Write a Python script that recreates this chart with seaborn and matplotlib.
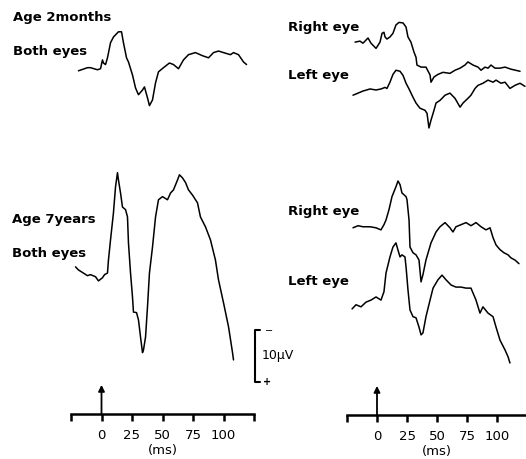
import numpy as np
import pandas as pd
import matplotlib
matplotlib.use("Agg")
import matplotlib.pyplot as plt
import seaborn as sns

# %% data (time in ms, amplitude in uV relative to trace start)
t_2m_both = [-18.9, -11.5, -9.0, -3.3, -0.8, 0.8, 1.6, 3.3, 4.9, 7.4, 9.8, 13.9, 16.4, 18.0, 20.5, 22.1,
             25.4, 27.9, 30.3, 33.6, 35.2, 37.7, 39.3, 41.8, 44.3, 46.7, 50.8, 55.7, 59.0, 63.1, 67.2,
             71.3, 77.0, 82.8, 87.7, 91.8, 95.9, 100.0, 105.7, 108.2, 112.3, 116.4, 118.9]
v_2m_both = [0, 0.6, 0.6, 0.2, 0.4, 2.1, 1.5, 1.2, 2.5, 5.4, 6.5, 7.5, 7.5, 5.4, 2.5, 1.7,
             -0.8, -3.3, -4.6, -3.7, -3.1, -5.2, -6.7, -5.6, -2.3, -0.2, 0.6, 1.5, 1.2, 0.4, 2.1,
             3.1, 3.5, 2.9, 2.5, 3.5, 3.8, 3.5, 3.1, 3.5, 3.1, 1.7, 1.2]

t_2m_right = [-18.3, -14.2, -11.7, -7.5, -5.0, -0.8, 2.5, 4.2, 5.8, 6.7, 8.3, 10.8, 13.3, 15.8, 18.3,
              21.7, 24.2, 25.8, 28.3, 30.8, 32.5, 33.3, 36.7, 40.8, 44.2, 45.0, 47.5, 50.8, 55.0,
              60.8, 65.0, 69.2, 73.3, 75.8, 80.0, 84.2, 86.7, 90.0, 92.5, 95.0, 98.3, 102.5, 106.7,
              111.7, 119.2]
v_2m_right = [0, 0.2, -0.2, 0.8, -0.2, -1.2, 0, 1.7, 1.9, 1.0, 0.6, 1.0, 1.7, 3.3, 3.8,
              3.7, 2.9, 1.0, 0, -1.9, -2.9, -4.4, -4.8, -4.8, -6.3, -7.7, -6.7, -6.2, -5.8,
              -6.0, -5.4, -5.0, -4.4, -3.8, -4.4, -4.8, -5.4, -4.8, -5.0, -4.4, -5.0, -5.0, -4.8,
              -5.2, -5.6]

t_2m_left = [-20.0, -15.8, -11.7, -5.8, -0.8, 3.3, 6.7, 8.3, 10.8, 13.3, 15.8, 19.2, 21.7, 24.2,
             26.7, 30.0, 32.5, 35.8, 40.0, 41.7, 43.3, 45.0, 47.5, 49.2, 52.5, 56.7, 60.8, 65.0,
             69.2, 71.7, 75.8, 78.3, 81.7, 84.2, 88.3, 92.5, 96.7, 99.2, 103.3, 106.7, 110.8,
             115.0, 119.2, 123.3]
v_2m_left = [0, 0.4, 0.8, 1.2, 1.0, 1.2, 1.5, 1.3, 2.5, 4.0, 4.8, 4.6, 3.8, 2.3,
             1.2, -0.4, -1.5, -2.5, -2.9, -3.5, -6.3, -4.8, -2.9, -1.5, -1.0, 0, 0.4, -0.6,
             -2.3, -1.5, -0.6, 0, 1.3, 1.9, 2.3, 2.9, 2.5, 2.9, 2.3, 2.5, 1.3,
             1.9, 2.3, 1.7]

t_7y_both = [-21.3, -18.9, -14.8, -11.5, -9.0, -4.9, -2.5, 0.8, 2.5, 4.9, 5.7, 7.4, 9.8, 11.5, 13.1,
             13.9, 15.6, 17.2, 19.7, 21.3, 22.1, 23.8, 25.4, 26.2, 28.7, 30.3, 32.0, 33.6, 34.4,
             36.1, 37.7, 39.3, 41.8, 44.3, 46.7, 50.0, 54.1, 56.6, 59.0, 62.3, 63.9, 66.4, 68.9,
             71.3, 74.6, 78.7, 81.1, 85.2, 89.3, 93.4, 95.9, 100.0, 104.1, 107.4, 108.2]
v_7y_both = [0, -0.6, -1.2, -1.7, -1.5, -1.9, -2.7, -2.1, -1.5, -1.2, 1.3, 5.2, 10.4, 15.4, 18.1,
             16.7, 14.2, 11.5, 11.0, 9.6, 4.6, -1.2, -5.8, -8.7, -8.8, -10.2, -13.5, -16.5, -16.0,
             -13.5, -7.7, -1.2, 3.8, 9.6, 12.9, 13.5, 12.9, 14.2, 14.8, 16.7, 17.7, 17.1, 16.2,
             14.8, 13.8, 12.3, 9.6, 7.7, 5.2, 1.3, -2.5, -6.9, -11.5, -16.5, -17.9]

t_7y_right = [-20.0, -15.8, -11.7, -5.8, -0.8, 3.3, 5.8, 7.5, 10.0, 12.5, 15.8, 17.5, 19.2, 20.8,
              24.2, 25.0, 26.7, 27.5, 30.0, 32.5, 35.0, 36.7, 38.3, 40.8, 45.0, 49.2, 52.5, 56.7,
              60.8, 63.3, 65.8, 70.0, 74.2, 78.3, 82.5, 86.7, 90.8, 94.2, 96.7, 99.2, 102.5, 105.8,
              109.2, 111.7, 115.0, 118.3]
v_7y_right = [0, 0.4, 0.2, 0.2, 0, -0.4, 0.6, 1.5, 3.5, 6.0, 7.9, 9.0, 8.3, 6.7,
              6.0, 5.4, 1.5, -3.7, -4.8, -5.2, -6.2, -10.4, -9.0, -6.2, -2.9, -0.8, 0.2, 1.0,
              0, -0.8, 0.2, 0.6, 1.0, 0.4, 1.0, 0.2, -0.4, 0, -1.9, -3.3, -4.2, -4.8,
              -5.2, -5.8, -6.2, -6.9]

t_7y_left = [-20.8, -17.5, -13.3, -9.2, -5.0, -0.8, 3.3, 5.8, 7.5, 10.8, 13.3, 15.8, 17.5, 19.2,
             20.8, 23.3, 24.2, 25.8, 27.5, 30.0, 32.5, 35.0, 36.7, 38.3, 40.8, 44.2, 46.7, 50.8,
             54.2, 57.5, 61.7, 65.8, 70.0, 74.2, 78.3, 82.5, 85.8, 88.3, 92.5, 96.7, 99.2, 102.5,
             106.7, 109.2, 110.8]
v_7y_left = [0, 0.8, 0.4, 1.3, 1.7, 2.3, 1.7, 3.3, 6.9, 10.0, 11.9, 12.7, 11.3, 10.0,
             10.4, 10.0, 8.1, 3.7, -0.2, -1.5, -1.7, -3.5, -5.0, -4.6, -1.5, 1.7, 4.0, 5.6,
             6.5, 5.6, 4.6, 4.2, 4.2, 4.0, 4.0, 1.7, -0.8, 0.4, -0.8, -1.5, -3.5, -6.0,
             -7.9, -9.2, -10.4]

# vertical placement of each trace above the time axis (uV)
offsets_left = {"2m_both": 66.0, "7y_both": 28.3}
offsets_right = {"2m_right": 71.7, "2m_left": 61.5, "7y_right": 36.0, "7y_left": 20.4}

tick_pos = [-25, 0, 25, 50, 75, 100, 125]
tick_lab = ["", "0", "25", "50", "75", "100", ""]

# %% plot
sns.set_style("white")
plt.rcParams["font.family"] = ["DejaVu Sans"]
plt.rcParams["text.color"] = "black"
plt.rcParams["axes.labelcolor"] = "black"
plt.rcParams["xtick.color"] = "black"

W, H = 526, 459
fig = plt.figure(figsize=(W / 100, H / 100), dpi=100)
ax_l = fig.add_axes([71 / W, (H - 414) / H, 183 / W, 414 / H])
ax_r = fig.add_axes([347 / W, (H - 415) / H, 180 / W, 415 / H])


def draw_trace(ax, t, v, off):
    d = pd.DataFrame({"t": t, "v": np.array(v) + off})
    sns.lineplot(data=d, x="t", y="v", ax=ax, color="black", lw=1.1, estimator=None, sort=False)


draw_trace(ax_l, t_2m_both, v_2m_both, offsets_left["2m_both"])
draw_trace(ax_l, t_7y_both, v_7y_both, offsets_left["7y_both"])
draw_trace(ax_r, t_2m_right, v_2m_right, offsets_right["2m_right"])
draw_trace(ax_r, t_2m_left, v_2m_left, offsets_right["2m_left"])
draw_trace(ax_r, t_7y_right, v_7y_right, offsets_right["7y_right"])
draw_trace(ax_r, t_7y_left, v_7y_left, offsets_right["7y_left"])

for ax, top in [(ax_l, 414), (ax_r, 415)]:
    ax.set_xlim(-25, 125)
    ax.set_ylim(0, top / 5.2)
    for s in ["left", "top", "right"]:
        ax.spines[s].set_visible(False)
    ax.spines["bottom"].set_linewidth(1.8)
    ax.spines["bottom"].set_color("black")
    ax.set_yticks([])
    ax.set_xticks(tick_pos)
    ax.set_xticklabels(tick_lab)
    ax.tick_params(axis="x", direction="out", length=5, width=1.8, pad=6, labelsize=9.5,
                   bottom=True, color="black", labelcolor="black")
    ax.set_xlabel("(ms)", fontsize=9.5, labelpad=1, color="black")
    ax.set_ylabel("")
    ax.annotate("", xy=(0, 5.6), xytext=(0, 0), annotation_clip=False,
                arrowprops=dict(arrowstyle="-|>", color="black", lw=1.3, mutation_scale=9,
                                shrinkA=0, shrinkB=0))

# scale bar 10 uV
ax_l.plot([130.3, 126.2, 126.2, 130.3], [16.2, 16.2, 6.2, 6.2], color="black", lw=1.5,
          clip_on=False)
ax_l.text(137, 16.0, "\u2212", fontsize=7, ha="center", va="center", color="black")
ax_l.text(131.5, 11.3, "10\u00b5V", fontsize=9, ha="left", va="center", color="black")
ax_l.text(136, 6.2, "+", fontsize=7, ha="center", va="center", fontweight="bold", color="black")

lab = dict(fontsize=9.5, fontweight="bold", ha="left", va="center", color="black")
fig.text(13 / W, 1 - 18 / H, "Age 2months", **lab)
fig.text(13 / W, 1 - 52 / H, "Both eyes", **lab)
fig.text(288 / W, 1 - 27 / H, "Right eye", **lab)
fig.text(288 / W, 1 - 75 / H, "Left eye", **lab)
fig.text(12 / W, 1 - 220 / H, "Age 7years", **lab)
fig.text(12 / W, 1 - 253 / H, "Both eyes", **lab)
fig.text(288 / W, 1 - 212 / H, "Right eye", **lab)
fig.text(288 / W, 1 - 282 / H, "Left eye", **lab)

fig.savefig("out.png", dpi=100)
